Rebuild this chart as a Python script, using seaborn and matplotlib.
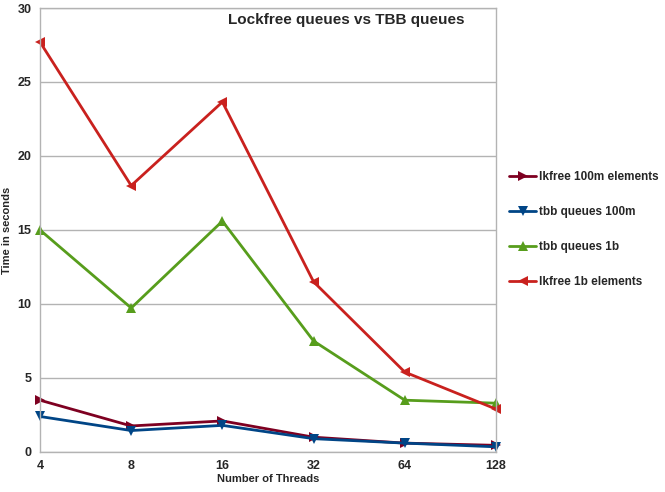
import matplotlib
matplotlib.use("Agg")
import matplotlib.pyplot as plt
import seaborn as sns
import pandas as pd

threads = ["4", "8", "16", "32", "64", "128"]
lkfree_100m = [3.5, 1.76, 2.1, 1.0, 0.6, 0.45]
tbb_100m = [2.4, 1.45, 1.8, 0.9, 0.6, 0.35]
tbb_1b = [15.0, 9.73, 15.6, 7.5, 3.5, 3.3]
lkfree_1b = [27.7, 18.0, 23.65, 11.5, 5.4, 2.9]

names = ["lkfree 100m elements", "tbb queues 100m", "tbb queues 1b", "lkfree 1b elements"]
series = [lkfree_100m, tbb_100m, tbb_1b, lkfree_1b]
colors = ["#7e0021", "#004586", "#579d1c", "#c9211e"]
markers = [">", "v", "^", "<"]

rows = []
for n, vals in zip(names, series):
    for t, v in zip(threads, vals):
        rows.append({"Threads": t, "Time": v, "Series": n})
df = pd.DataFrame(rows)

sns.set_style("white")
plt.rcParams["font.family"] = ["Liberation Sans", "DejaVu Sans"]
plt.rcParams["font.weight"] = "bold"

fig = plt.figure(figsize=(6.65, 4.92), dpi=100)
ax = fig.add_axes([40 / 665, 40 / 492, 456 / 665, 444 / 492])

sns.lineplot(data=df, x="Threads", y="Time", hue="Series", style="Series",
             hue_order=names, style_order=names, palette=colors,
             markers=dict(zip(names, markers)), dashes=False,
             linewidth=2, markersize=7, markeredgewidth=0, ax=ax)
for ln in ax.lines:
    ln.set_clip_on(False)

ax.set_xlim(0, 5)
ax.set_ylim(0, 30)
ax.set_yticks(range(0, 31, 5))
ax.yaxis.grid(True, color="#b3b3b3", linewidth=1)
ax.set_axisbelow(True)
for s in ["left", "bottom", "right", "top"]:
    ax.spines[s].set_color("#b3b3b3")
    ax.spines[s].set_linewidth(1)
ax.tick_params(axis="both", length=4, color="#b3b3b3", labelsize=9, pad=2)
for lab in ax.get_xticklabels() + ax.get_yticklabels():
    lab.set_fontweight("bold")
ax.set_xlabel("Number of Threads", fontsize=8, fontweight="bold", labelpad=1)
ax.set_ylabel("Time in seconds", fontsize=8, fontweight="bold", labelpad=4)

fig.text(346 / 665, 1 - 20 / 492, "Lockfree queues vs TBB queues", ha="center",
         va="center", fontsize=11, fontweight="bold")

leg = ax.legend(loc="center left", bbox_to_anchor=(509 / 665, 1 - 229.5 / 492),
                bbox_transform=fig.transFigure, frameon=False,
                handlelength=2.3, labelspacing=1.95, handletextpad=0.25,
                borderaxespad=0, borderpad=0,
                prop={"weight": "bold", "size": 8.5})

fig.savefig("out.png", dpi=100)
